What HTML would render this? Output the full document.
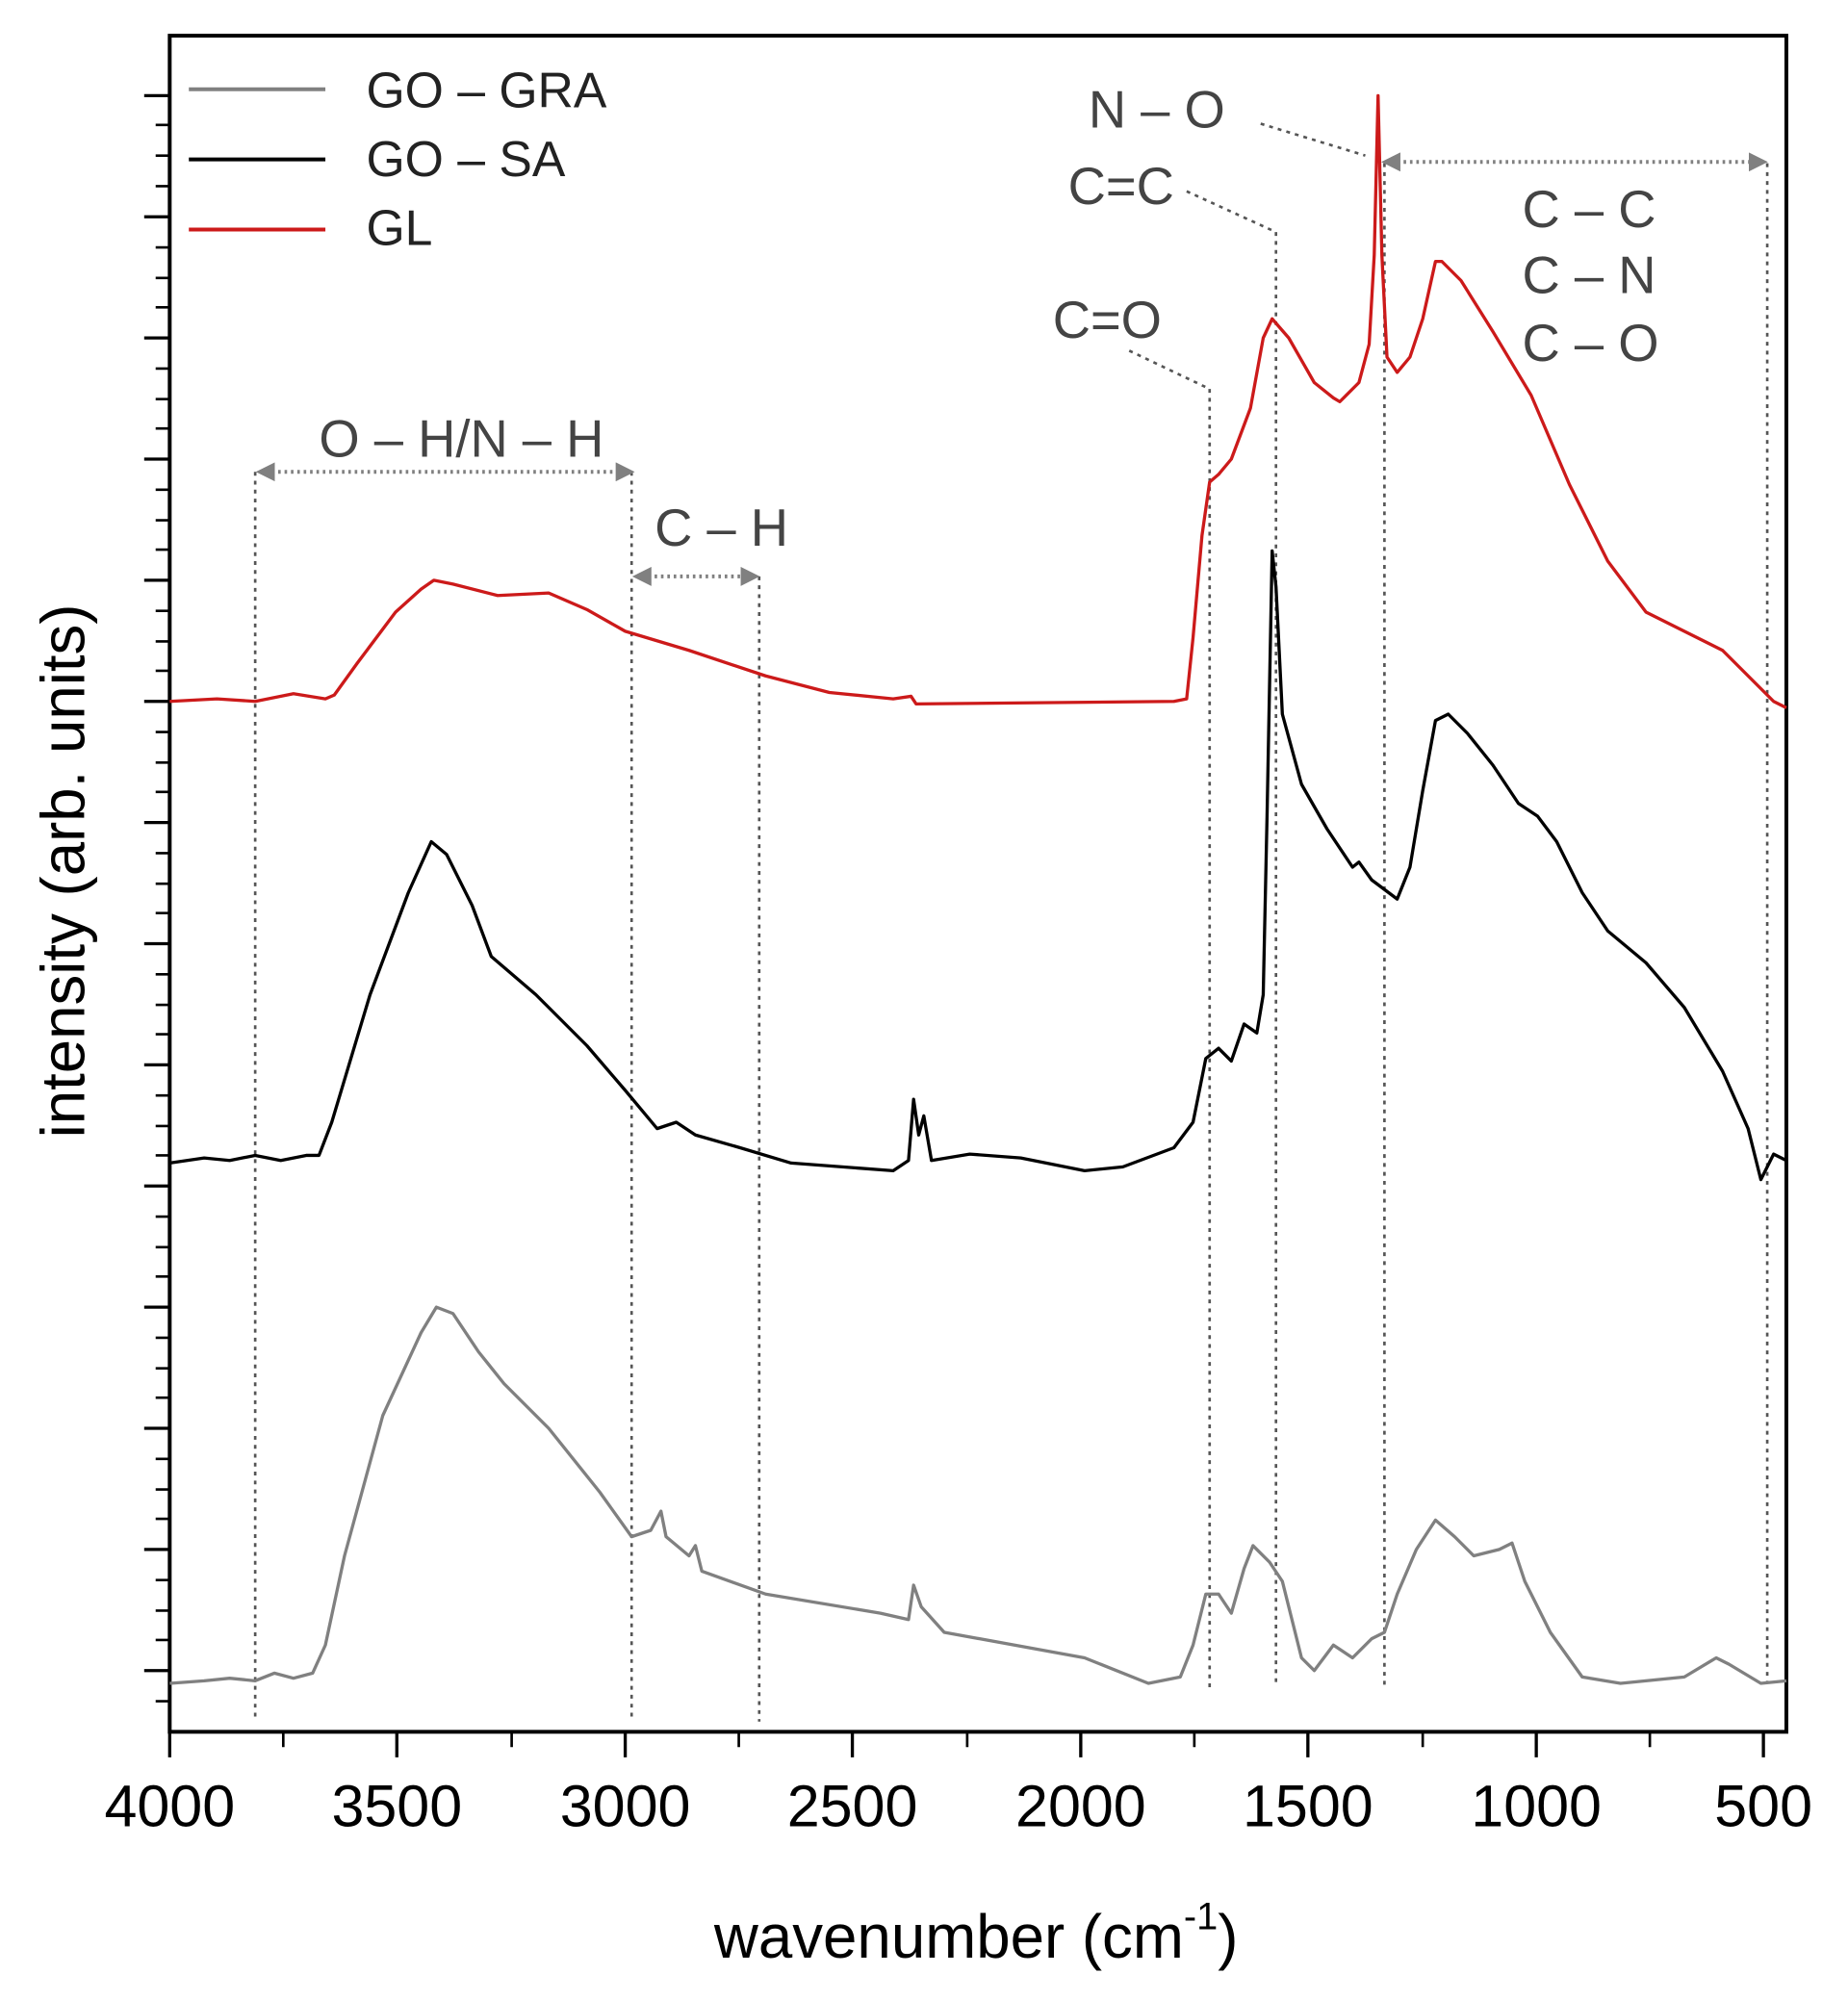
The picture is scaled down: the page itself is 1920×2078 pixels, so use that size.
<!DOCTYPE html>
<html><head><meta charset="utf-8"><style>
html,body{margin:0;padding:0;background:#fff;}
svg{display:block;}
text{font-family:"Liberation Sans",sans-serif;}
</style></head><body>
<svg width="1920" height="2078" viewBox="0 0 1920 2078" xmlns="http://www.w3.org/2000/svg">
<rect width="1920" height="2078" fill="#fff"/>
<g transform="scale(1.3257 1.325)">
<defs>
<marker id="ah" viewBox="0 0 10 10" refX="5" refY="5" markerWidth="5" markerHeight="5" orient="auto-start-reverse"><path d="M0,0 L10,5 L0,10 z" fill="#808080"/></marker>
</defs>
<rect x="133" y="28" width="1267" height="1330" fill="none" stroke="#000" stroke-width="3"/>
<g stroke="#000" stroke-width="2.5">
<path d="M113 75H133M113 170H133M113 265H133M113 360H133M113 455H133M113 550H133M113 645H133M113 740H133M113 835H133M113 930H133M113 1025H133M113 1120H133M113 1215H133M113 1310H133"/>
<path d="M122 98H133M122 122H133M122 146H133M122 194H133M122 218H133M122 241H133M122 289H133M122 313H133M122 336H133M122 384H133M122 408H133M122 431H133M122 479H133M122 503H133M122 526H133M122 574H133M122 598H133M122 621H133M122 669H133M122 693H133M122 716H133M122 764H133M122 788H133M122 811H133M122 859H133M122 883H133M122 906H133M122 954H133M122 978H133M122 1001H133M122 1049H133M122 1073H133M122 1096H133M122 1144H133M122 1168H133M122 1191H133M122 1239H133M122 1263H133M122 1286H133M122 1334H133" stroke-width="2"/>
<path d="M133 1358V1378M311 1358V1378M490 1358V1378M668 1358V1378M847 1358V1378M1025 1358V1378M1204 1358V1378M1382 1358V1378"/>
<path d="M222 1358V1370M401 1358V1370M579 1358V1370M758 1358V1370M936 1358V1370M1115 1358V1370M1293 1358V1370" stroke-width="2"/>
</g>
<g font-size="46" text-anchor="middle" fill="#000">
<text x="133" y="1432">4000</text><text x="311" y="1432">3500</text><text x="490" y="1432">3000</text><text x="668" y="1432">2500</text><text x="847" y="1432">2000</text><text x="1025" y="1432">1500</text><text x="1204" y="1432">1000</text><text x="1382" y="1432">500</text>
</g>
<text x="765" y="1535" font-size="48" text-anchor="middle">wavenumber (cm<tspan font-size="30" dy="-22">-1</tspan><tspan dy="22">)</tspan></text>
<text transform="translate(66 683) rotate(-90)" font-size="48" text-anchor="middle">intensity (arb. units)</text>
<g stroke="#555" stroke-width="2" stroke-dasharray="3 4" fill="none">
<path d="M200 370V1350M495 370V1350M595 452V1350M948 305V1325M1000 182V1320M1085 128V1325M1385 128V1320"/>
<path d="M988 97L1070 122M930 150L1000 182M885 275L948 305"/>
</g>
<g stroke="#808080" stroke-width="3" stroke-dasharray="2 3" fill="none">
<path d="M208 370H490" marker-start="url(#ah)" marker-end="url(#ah)"/>
<path d="M503 452H588" marker-start="url(#ah)" marker-end="url(#ah)"/>
<path d="M1090 127H1378" marker-start="url(#ah)" marker-end="url(#ah)"/>
</g>
<g font-size="41" fill="#444">
<text x="250" y="358">O – H/N – H</text>
<text x="513" y="428">C – H</text>
<text x="825" y="265">C=O</text>
<text x="837" y="160">C=C</text>
<text x="853" y="100">N – O</text>
<text x="1193" y="178">C – C</text>
<text x="1193" y="230">C – N</text>
<text x="1193" y="283">C – O</text>
</g>
<path d="M148 70H255" stroke="#808080" stroke-width="3"/>
<path d="M148 125H255" stroke="#000" stroke-width="3"/>
<path d="M148 180H255" stroke="#cc1a1a" stroke-width="3"/>
<g font-size="39" fill="#222">
<text x="287" y="84">GO –  GRA</text>
<text x="287" y="138">GO – SA</text>
<text x="287" y="192">GL</text>
</g>
<g fill="none" stroke-width="2.5" stroke-linejoin="round">
<polyline stroke="#808080" points="133,1320 160,1318 180,1316 200,1318 215,1312 230,1316 245,1312 255,1290 270,1220 300,1110 330,1045 342,1025 355,1030 375,1060 395,1085 430,1120 470,1170 495,1205 510,1200 518,1185 522,1205 540,1220 545,1212 550,1232 600,1250 690,1265 712,1270 716,1243 722,1260 740,1280 850,1300 900,1320 925,1315 935,1290 945,1250 955,1250 965,1265 975,1230 982,1212 995,1225 1005,1240 1020,1300 1030,1310 1045,1290 1060,1300 1075,1285 1085,1280 1095,1250 1110,1215 1125,1192 1140,1205 1155,1220 1175,1215 1185,1210 1195,1240 1215,1280 1240,1315 1270,1320 1320,1315 1345,1300 1355,1305 1380,1320 1400,1318"/>
<polyline stroke="#000" points="133,912 160,908 180,910 200,906 220,910 240,906 250,906 260,880 290,780 320,700 338,660 350,670 370,710 385,750 420,780 460,820 490,855 515,885 530,880 545,890 580,900 620,912 700,918 712,910 716,862 720,890 724,875 730,910 760,905 800,908 850,918 880,915 920,900 935,880 945,830 955,822 965,832 975,803 985,810 990,780 993,640 997,432 1000,460 1005,560 1020,615 1040,650 1060,680 1065,676 1075,690 1095,705 1105,680 1115,620 1125,565 1135,560 1150,575 1170,600 1190,630 1205,640 1220,660 1240,700 1260,730 1290,755 1320,790 1350,840 1370,885 1380,925 1385,915 1390,905 1400,910"/>
<polyline stroke="#cc1a1a" points="133,550 170,548 200,550 230,544 255,548 262,545 280,520 310,480 330,462 340,455 355,458 390,467 430,465 460,478 490,495 540,510 600,530 650,543 700,548 714,546 718,552 920,550 930,548 935,500 942,420 948,378 955,372 965,360 980,320 990,265 997,250 1010,265 1030,300 1045,312 1050,315 1065,300 1073,270 1077,200 1080,75 1083,200 1087,280 1095,292 1105,280 1115,250 1125,205 1130,205 1145,220 1170,260 1200,310 1230,380 1260,440 1290,480 1320,495 1350,510 1370,530 1390,550 1400,555"/>
</g>
</g>
</svg>
</body></html>
